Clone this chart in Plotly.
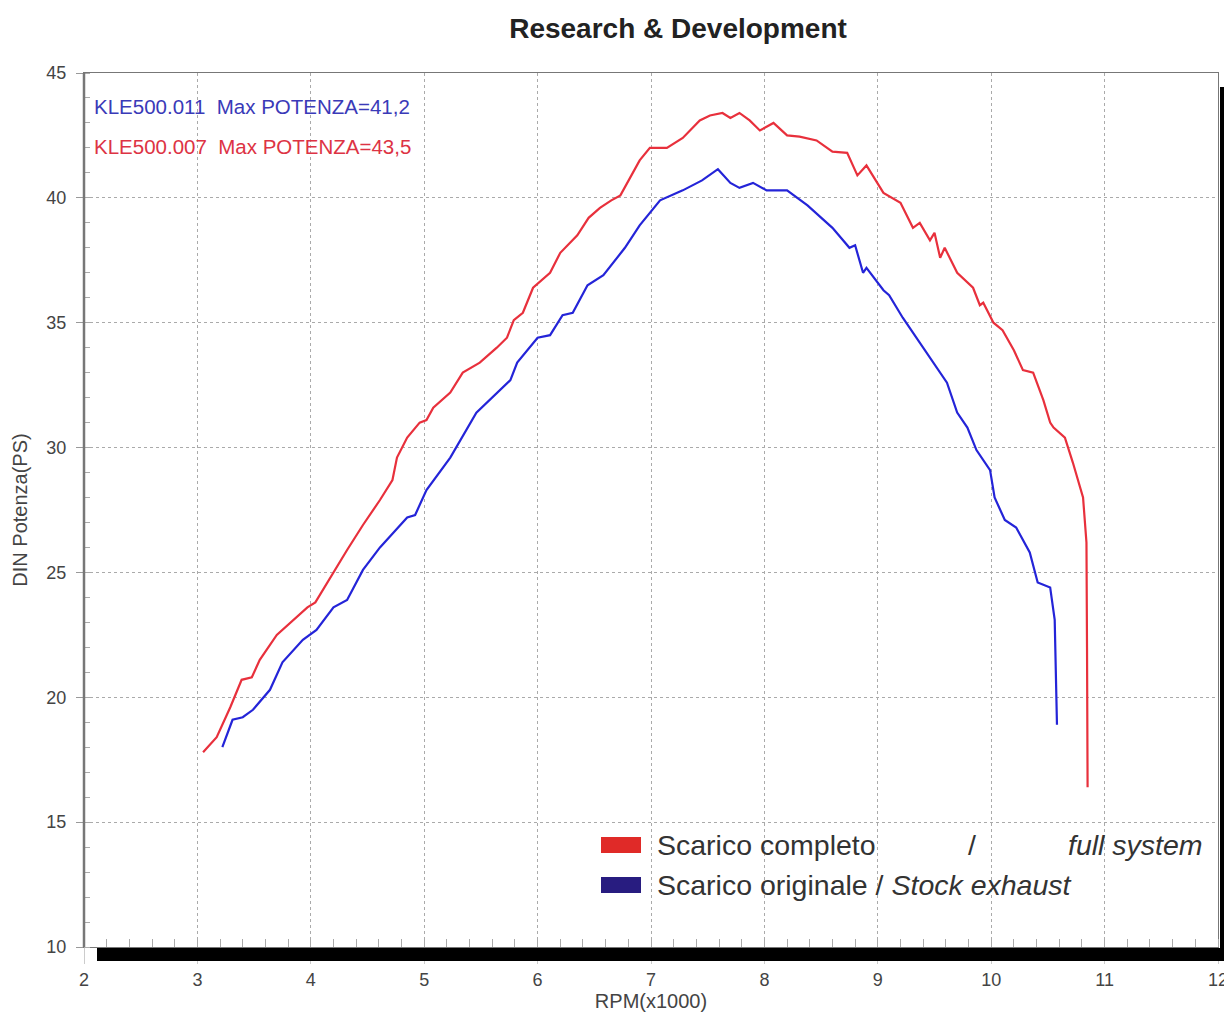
import plotly.graph_objects as go

# Data
rpm_full = [3.05, 3.07, 3.17, 3.29, 3.39, 3.48, 3.55, 3.70, 3.82, 3.97, 4.04, 4.17, 4.32, 4.46,
            4.61, 4.72, 4.76, 4.85, 4.96, 5.02, 5.08, 5.23, 5.34, 5.49, 5.64, 5.73, 5.79, 5.87,
            5.96, 6.11, 6.20, 6.35, 6.45, 6.55, 6.65, 6.73, 6.84, 6.90, 6.99, 7.14, 7.28, 7.43,
            7.52, 7.63, 7.70, 7.78, 7.87, 7.96, 8.08, 8.20, 8.31, 8.46, 8.60, 8.73, 8.82, 8.90,
            9.05, 9.20, 9.31, 9.37, 9.46, 9.50, 9.55, 9.59, 9.70, 9.84, 9.90, 9.93, 10.02, 10.10,
            10.20, 10.28, 10.37, 10.46, 10.52, 10.55, 10.65, 10.72, 10.81, 10.84, 10.845, 10.85]
ps_full = [17.8, 17.9, 18.4, 19.6, 20.7, 20.8, 21.5, 22.5, 23.0, 23.6, 23.8, 24.8, 25.9, 26.9,
           27.9, 28.7, 29.6, 30.4, 31.0, 31.1, 31.6, 32.2, 33.0, 33.4, 34.0, 34.4, 35.1, 35.4,
           36.4, 37.0, 37.8, 38.5, 39.2, 39.6, 39.9, 40.1, 41.0, 41.5, 42.0, 42.0, 42.4, 43.1,
           43.3, 43.4, 43.2, 43.4, 43.1, 42.7, 43.0, 42.5, 42.45, 42.3, 41.85, 41.8, 40.9, 41.3,
           40.2, 39.8, 38.8, 39.0, 38.3, 38.6, 37.6, 38.0, 37.0, 36.4, 35.7, 35.8, 35.0, 34.7,
           33.9, 33.1, 33.0, 31.9, 31.0, 30.8, 30.4, 29.4, 28.0, 26.2, 22.0, 16.4]

rpm_stock = [3.22, 3.31, 3.40, 3.49, 3.64, 3.75, 3.93, 4.05, 4.20, 4.32, 4.46, 4.61, 4.85, 4.92,
             5.02, 5.23, 5.46, 5.64, 5.76, 5.82, 6.00, 6.11, 6.22, 6.31, 6.44, 6.58, 6.77, 6.90,
             7.08, 7.28, 7.45, 7.59, 7.70, 7.78, 7.90, 8.02, 8.20, 8.38, 8.60, 8.75, 8.80, 8.87,
             8.90, 9.05, 9.10, 9.22, 9.34, 9.46, 9.55, 9.61, 9.70, 9.79, 9.87, 9.99, 10.03, 10.12,
             10.22, 10.34, 10.41, 10.52, 10.56, 10.575, 10.58]
ps_stock = [18.0, 19.1, 19.2, 19.5, 20.3, 21.4, 22.3, 22.7, 23.6, 23.9, 25.1, 26.0, 27.2, 27.3,
            28.3, 29.6, 31.4, 32.2, 32.7, 33.4, 34.4, 34.5, 35.3, 35.4, 36.5, 36.9, 38.0, 38.9,
            39.9, 40.3, 40.7, 41.15, 40.6, 40.4, 40.6, 40.3, 40.3, 39.7, 38.8, 38.0, 38.1, 37.0,
            37.2, 36.3, 36.1, 35.2, 34.4, 33.6, 33.0, 32.6, 31.4, 30.8, 29.9, 29.1, 28.0, 27.1,
            26.8, 25.8, 24.6, 24.4, 23.1, 20.5, 18.9]

x_ticks = [2, 3, 4, 5, 6, 7, 8, 9, 10, 11, 12]
y_ticks = [10, 15, 20, 25, 30, 35, 40, 45]

RED = "#e8303c"
BLUE = "#2424d8"
FONT = "Liberation Sans, Arial, sans-serif"

fig = go.Figure()
fig.add_trace(go.Scatter(x=rpm_stock, y=ps_stock, mode="lines",
                         line=dict(color=BLUE, width=2.2), showlegend=False))
fig.add_trace(go.Scatter(x=rpm_full, y=ps_full, mode="lines",
                         line=dict(color=RED, width=2.2), showlegend=False))

# window pixels (page body has an 8px margin)
OFF = 8
W, H = 1232 - OFF, 1013 - OFF
L, R, T, B = 84, 1218, 73, 947   # plot area in window pixels
def px(x): return (x - L) / (R - L)
def py(y): return (B - y) / (B - T)

fig.update_layout(
    width=W, height=H,
    margin=dict(l=L - OFF, r=1232 - R, t=T - OFF, b=1013 - B, autoexpand=False),
    paper_bgcolor="white", plot_bgcolor="white",
    font=dict(family=FONT, color="#444", size=17),
    title=dict(text="<b>Research & Development</b>", x=(678 - OFF) / W, xanchor="center",
               y=1 - (28 - OFF) / H, yanchor="middle",
               font=dict(family=FONT, size=28, color="#222")),
)

fig.update_xaxes(
    range=[2, 12], tickvals=x_ticks, ticktext=[str(v) for v in x_ticks],
    showgrid=True, gridcolor="#aaaaaa", griddash="dot", gridwidth=1,
    ticks="outside", ticklen=16, tickcolor="#cccccc", tickwidth=1,
    minor=dict(ticks="inside", dtick=0.2, ticklen=8, tickcolor="#aaaaaa", showgrid=False),
    showline=True, linecolor="#777777", linewidth=1, mirror=True,
    tickfont=dict(size=18, color="#444"), automargin=False,
    title=dict(text="RPM(x1000)", font=dict(size=20, color="#444"), standoff=2),
    zeroline=False,
)
fig.update_yaxes(
    range=[10, 45], tickvals=y_ticks, ticktext=[str(v) for v in y_ticks],
    showgrid=True, gridcolor="#aaaaaa", griddash="dot", gridwidth=1,
    ticks="outside", ticklen=7, tickcolor="#999999", tickwidth=1,
    ticklabelstandoff=6, automargin=False,
    minor=dict(ticks="inside", dtick=1, ticklen=6, tickcolor="#aaaaaa", showgrid=False),
    showline=True, linecolor="#777777", linewidth=1, mirror=True,
    tickfont=dict(size=18, color="#444"),
    title=dict(text="DIN Potenza(PS)", font=dict(size=20, color="#444"), standoff=13),
    zeroline=False,
)

shapes = [
    # thicker left spine
    dict(type="line", xref="paper", yref="paper", x0=0, x1=0, y0=0, y1=1,
         line=dict(color="#777777", width=2.5)),
    # black drop shadow bottom and right
    dict(type="rect", xref="paper", yref="paper", x0=px(97), x1=px(1232),
         y0=py(961), y1=py(948), fillcolor="black", line=dict(width=0)),
    dict(type="rect", xref="paper", yref="paper", x0=px(1220), x1=px(1232),
         y0=py(961), y1=py(87), fillcolor="black", line=dict(width=0)),
    # legend swatches
    dict(type="rect", xref="paper", yref="paper", x0=px(601), x1=px(641),
         y0=py(853), y1=py(837), fillcolor="#e02a28", line=dict(width=0)),
    dict(type="rect", xref="paper", yref="paper", x0=px(601), x1=px(641),
         y0=py(893), y1=py(877), fillcolor="#281c80", line=dict(width=0)),
]
fig.update_layout(shapes=shapes)

ann = [
    dict(text="KLE500.011  Max POTENZA=41,2", x=px(92), y=py(107), color="#3a3ab8", size=20.5),
    dict(text="KLE500.007  Max POTENZA=43,5", x=px(92), y=py(147), color="#dd3344", size=20.5),
    dict(text="Scarico completo", x=px(655), y=py(845), color="#333", size=28.5),
    dict(text="/", x=px(966), y=py(845), color="#333", size=28.5),
    dict(text="<i>full system</i>", x=px(1066), y=py(845), color="#333", size=28.5),
    dict(text="Scarico originale / <i>Stock exhaust</i>", x=px(655), y=py(885), color="#333", size=28.5),
]
for a in ann:
    fig.add_annotation(text=a["text"], x=a["x"], y=a["y"], xref="paper", yref="paper",
                       xanchor="left", yanchor="middle", showarrow=False,
                       font=dict(family=FONT, size=a["size"], color=a["color"]))

fig.write_html("out.html")
